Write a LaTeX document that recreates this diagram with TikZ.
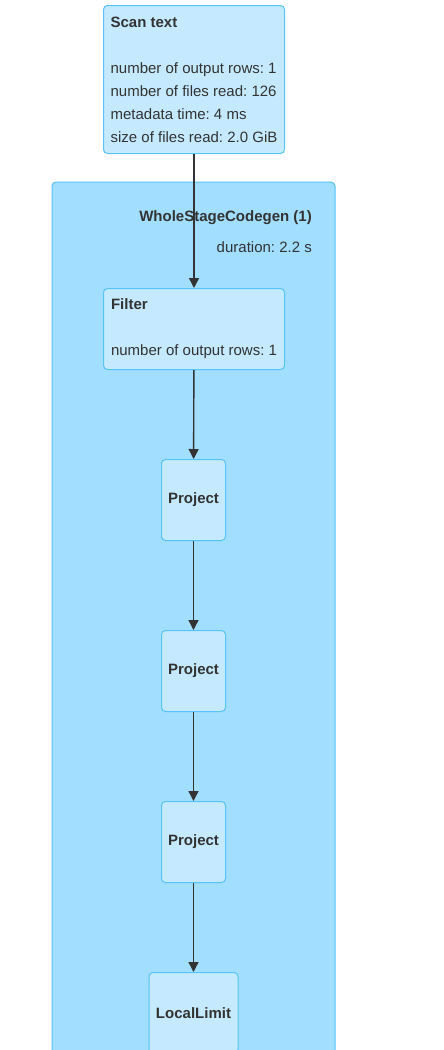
\documentclass[tikz,border=0pt]{standalone}
\usepackage{fontspec}
\setmainfont{Liberation Sans}
\usetikzlibrary{arrows.meta}
\definecolor{clusterblue}{RGB}{161,222,255}
\definecolor{opblue}{RGB}{197,234,255}
\definecolor{lineblue}{RGB}{86,196,246}
\definecolor{textgray}{RGB}{51,51,51}
\frenchspacing

\begin{document}
\begin{tikzpicture}[x=1pt, y=-1pt,
    every node/.style={text=textgray, font=\fontsize{15}{23}\selectfont},
    opbox/.style={draw=lineblue, fill=opblue, rounded corners=4pt, line width=1pt,
      inner xsep=6pt, inner ysep=0pt},
    flow/.style={draw=textgray, line width=1.4pt, -{Triangle[length=10pt,width=10pt]}}]
    \useasboundingbox (0,0) rectangle (444,1050);
    % the codegen stage
    \draw[draw=lineblue, fill=clusterblue, rounded corners=4pt, line width=1pt]
      (52,182) rectangle (335,1070);
    \node[anchor=east, align=right, inner sep=0pt] (wscg) at (312,231.5)
      {\textbf{WholeStageCodegen (1)}\\[8pt]duration: 2.2 s};
    % operators
    \node[opbox, anchor=north west, minimum width=181pt, minimum height=148pt, align=left] (scan)
      at (103,5) {\textbf{Scan text}\\[23pt]number of output rows: 1\\number of files read: 126\\
      metadata time: 4 ms\\size of files read: 2.0 GiB};
    \node[opbox, anchor=north west, minimum width=181pt, minimum height=81pt, align=left] (filter)
      at (103,288) {\textbf{Filter}\hfill\mbox{}\\[23pt]number of output rows: 1};
    \foreach \i/\y in {1/459, 2/630, 3/801}
      \node[opbox, anchor=north, minimum width=64pt, minimum height=81pt] (proj\i)
        at (193.5,\y) {\textbf{Project}};
    \node[opbox, anchor=north, minimum width=89pt, minimum height=81pt] (limit)
      at (193.5,972) {\textbf{LocalLimit}};
    % edges
    \foreach \a/\b in {scan/filter, filter/proj1, proj1/proj2, proj2/proj3, proj3/limit}
      \draw[flow] (\a) -- (\b);
  \end{tikzpicture}
\end{document}
